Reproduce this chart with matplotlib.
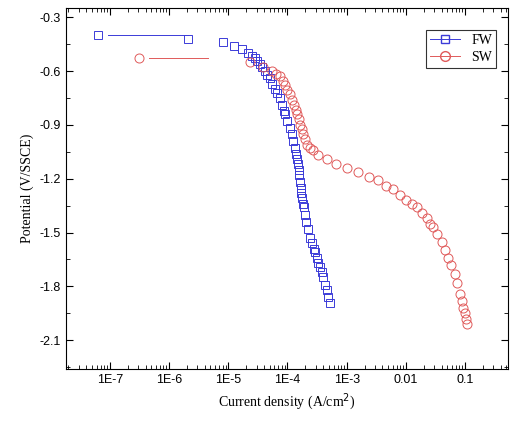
import numpy as np
import matplotlib
matplotlib.use("Agg")
import matplotlib.pyplot as plt
from matplotlib.ticker import FixedLocator, FuncFormatter, LogLocator, NullFormatter
from matplotlib.lines import Line2D

# log10 of current density (A/cm2) and potential (V/SSCE)
fw_logi = [-7.20, -5.68, -5.09, -4.91, -4.77, -4.67, -4.60, -4.55, -4.51, -4.47, -4.43,
           -4.38, -4.34, -4.30, -4.26, -4.21, -4.17, -4.13, -4.09, -4.06, -4.04, -4.00,
           -3.96, -3.93, -3.90, -3.88, -3.86, -3.84, -3.82, -3.81, -3.80, -3.79, -3.78,
           -3.77, -3.76, -3.74, -3.72, -3.71, -3.69, -3.66, -3.62, -3.59, -3.56, -3.54,
           -3.51, -3.48, -3.45, -3.42, -3.40, -3.37, -3.34, -3.31, -3.28]
fw_pot = [-0.40, -0.42, -0.44, -0.46, -0.48, -0.50, -0.515, -0.53, -0.545, -0.56, -0.58,
          -0.60, -0.62, -0.64, -0.67, -0.70, -0.725, -0.75, -0.79, -0.82, -0.84, -0.88,
          -0.92, -0.95, -0.99, -1.03, -1.06, -1.09, -1.12, -1.15, -1.18, -1.22, -1.25,
          -1.28, -1.31, -1.34, -1.36, -1.40, -1.44, -1.48, -1.53, -1.56, -1.59, -1.61,
          -1.64, -1.67, -1.69, -1.72, -1.75, -1.79, -1.82, -1.86, -1.89]
sw_logi = [-6.51, -4.64, -4.42, -4.26, -4.20, -4.13, -4.08, -4.04, -4.00, -3.96, -3.92,
           -3.89, -3.86, -3.84, -3.81, -3.79, -3.76, -3.74, -3.70, -3.67, -3.62, -3.57,
           -3.49, -3.33, -3.18, -3.00, -2.81, -2.63, -2.47, -2.34, -2.22, -2.10, -2.00,
           -1.90, -1.81, -1.73, -1.65, -1.59, -1.54, -1.47, -1.39, -1.34, -1.29, -1.23,
           -1.17, -1.13, -1.09, -1.06, -1.03, -1.01, -0.99, -0.97]
sw_pot = [-0.53, -0.55, -0.58, -0.60, -0.615, -0.63, -0.655, -0.68, -0.705, -0.73, -0.76,
          -0.79, -0.815, -0.84, -0.87, -0.90, -0.925, -0.95, -0.98, -1.01, -1.03, -1.04,
          -1.07, -1.09, -1.12, -1.14, -1.16, -1.19, -1.21, -1.24, -1.26, -1.29, -1.32,
          -1.34, -1.36, -1.39, -1.42, -1.45, -1.47, -1.51, -1.55, -1.60, -1.64, -1.68,
          -1.73, -1.78, -1.84, -1.88, -1.92, -1.95, -1.98, -2.01]
xtick_labels = ["1E-7", "1E-6", "1E-5", "1E-4", "1E-3", "0.01", "0.1"]
yticks = [-0.3, -0.6, -0.9, -1.2, -1.5, -1.8, -2.1]

fw_i = 10.0 ** np.array(fw_logi)
sw_i = 10.0 ** np.array(sw_logi)

fig = plt.figure(figsize=(5.16, 4.32), dpi=100)
ax = fig.add_axes([0.128, 0.146, 0.856, 0.835])

blue = "#3b3bd8"
red = "#e05a5a"
# thin connecting lines at start of each curve
ax.plot([fw_i[0] * 1.5, fw_i[1]], [fw_pot[0], fw_pot[0]], color=blue, lw=0.7)
ax.plot([sw_i[0] * 1.5, 10 ** -5.34], [sw_pot[0], sw_pot[0]], color=red, lw=0.7)
ax.plot(fw_i, fw_pot, ls="none", marker="s", ms=5.5, mfc="none", mec=blue, mew=0.7)
ax.plot(sw_i, sw_pot, ls="none", marker="o", ms=6.5, mfc="none", mec=red, mew=0.7)

ax.set_xscale("log")
ax.set_xlim(10 ** -7.74, 10 ** -0.28)
ax.set_ylim(-2.26, -0.25)
xt = [10.0 ** k for k in range(-7, 0)]
ax.xaxis.set_major_locator(FixedLocator(xt))
ax.xaxis.set_major_formatter(FuncFormatter(lambda v, p: dict(zip(xt, xtick_labels)).get(v, "")))
ax.xaxis.set_minor_locator(LogLocator(base=10, subs=np.arange(2, 10), numticks=20))
ax.xaxis.set_minor_formatter(NullFormatter())
ax.set_yticks(yticks)
ax.set_yticklabels([f"{v:.1f}" for v in yticks])
ax.set_yticks(np.arange(-2.25, -0.2, 0.15), minor=True)
ax.tick_params(which="both", direction="in", top=True, right=True, labelsize=9)
ax.tick_params(which="major", length=5)
ax.tick_params(which="minor", length=3)
for lab in ax.get_xticklabels() + ax.get_yticklabels():
    lab.set_family("Liberation Sans")

ax.set_xlabel("Current density (A/cm$^2$)", family="Liberation Serif", fontsize=10)
ax.set_ylabel("Potential (V/SSCE)", family="Liberation Serif", fontsize=10)

handles = [Line2D([], [], color=blue, lw=0.7, marker="s", mfc="none", mec=blue, ms=6),
           Line2D([], [], color=red, lw=0.7, marker="o", mfc="none", mec=red, ms=7)]
leg = ax.legend(handles, ["FW", "SW"], loc="upper right", bbox_to_anchor=(0.99, 0.96),
                prop={"family": "Liberation Serif", "size": 10}, fancybox=False,
                edgecolor="black", handlelength=2.2, borderpad=0.3, labelspacing=0.3)
leg.get_frame().set_linewidth(0.8)

fig.savefig("out.png", dpi=100)
